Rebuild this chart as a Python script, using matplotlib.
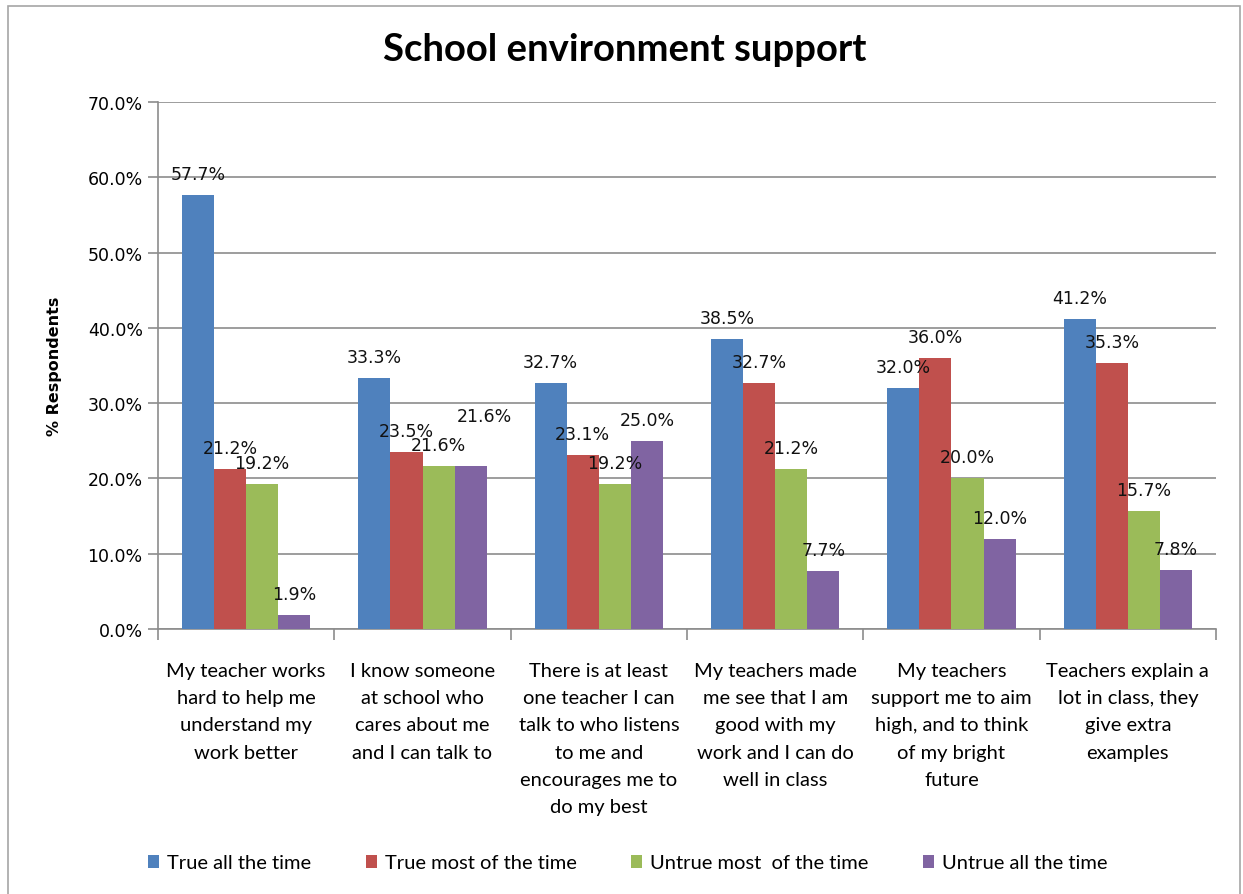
import matplotlib as mpl
mpl.use('Agg')
import matplotlib.pyplot as plt
from matplotlib.patches import Rectangle
from matplotlib.ticker import FuncFormatter
import numpy as np

# survey statements (x categories)
categories = [
    "My teacher works\nhard to help me\nunderstand my\nwork better",
    "I know someone\nat school who\ncares about me\nand I can talk to",
    "There is at least\none teacher I can\ntalk to who listens\nto me and\nencourages me to\ndo my best",
    "My teachers made\nme see that I am\ngood with my\nwork and I can do\nwell in class",
    "My teachers\nsupport me to aim\nhigh, and to think\nof my bright\nfuture",
    "Teachers explain a\nlot in class, they\ngive extra\nexamples",
]

# % respondents per answer
true_all = [57.7, 33.3, 32.7, 38.5, 32.0, 41.2]
true_most = [21.2, 23.5, 23.1, 32.7, 36.0, 35.3]
untrue_most = [19.2, 21.6, 19.2, 21.2, 20.0, 15.7]
untrue_all = [1.9, 21.6, 25.0, 7.7, 12.0, 7.8]

series = [
    ("True all the time", true_all, "#4F81BD"),
    ("True most of the time", true_most, "#C0504D"),
    ("Untrue most  of the time", untrue_most, "#9BBB59"),
    ("Untrue all the time", untrue_all, "#8064A2"),
]

W, H = 1243, 895
fig = plt.figure(figsize=(W / 100, H / 100), dpi=100)
ax = fig.add_axes([158 / W, 1 - 630 / H, (1216 - 158) / W, (630 - 103) / H])

# outer chart frame
fig.patches.append(Rectangle((8 / W, -0.05), (1240 - 8) / W, 1 - 7 / H + 0.05,
                             transform=fig.transFigure, fill=False,
                             edgecolor="#A6A6A6", linewidth=1.2))

x = np.arange(len(categories))
bw = 0.182
grid_c = "#8C8C8C"
# lift labels that would collide with a neighbour: (series, category) -> extra units
lift = {(3, 1): 3.9}
handles = []
for i, (name, vals, col) in enumerate(series):
    xs = x + (i - 1.5) * bw
    b = ax.bar(xs, vals, bw, color=col, label=name, zorder=3)
    handles.append(b)
    for j, (xi, v) in enumerate(zip(xs, vals)):
        dx = 0.08 if (i, j) in lift else 0.0
        ax.text(xi + dx, v + 2.8 + lift.get((i, j), 0), "%.1f%%" % v, ha="center", va="center",
                fontsize=12.5, family="DejaVu Sans", color="#111111", zorder=4)

ax.set_xlim(-0.5, len(categories) - 0.5)
ax.set_ylim(0, 70)
ax.set_yticks(np.arange(0, 71, 10))
ax.yaxis.set_major_formatter(FuncFormatter(lambda v, p: "%.1f%%" % v))
ax.grid(axis="y", color=grid_c, linewidth=1.2, zorder=0)
ax.tick_params(axis="y", labelsize=12.5, length=7, color=grid_c, width=1.2, pad=4)

ax.set_xticks(x)
ax.set_xticklabels(categories, family="Lato", fontsize=14.5, linespacing=1.72, va="top")
ax.tick_params(axis="x", length=0, pad=24)
ax.set_xticks(np.arange(-0.5, len(categories)), minor=True)
ax.tick_params(axis="x", which="minor", length=8, color=grid_c, width=1.2)

for s in ["top", "right"]:
    ax.spines[s].set_visible(False)
for s in ["left", "bottom"]:
    ax.spines[s].set_color(grid_c)
    ax.spines[s].set_linewidth(1.2)

ax.set_ylabel("% Respondents", fontsize=11.5, fontweight="bold", family="DejaVu Sans", labelpad=18)

fig.text(0.503, 1 - 50 / H, "School environment support", ha="center", va="center",
         fontsize=27.5, fontweight="bold", family="Lato")

fig.legend(handles=handles, loc="center", bbox_to_anchor=(0.505, 1 - 864 / H), ncol=4,
           frameon=False, prop={"family": "Lato", "size": 14.5},
           handlelength=0.55, handleheight=0.6, handletextpad=0.4, columnspacing=2.7)

fig.savefig("out.png", dpi=100)
plt.close(fig)
